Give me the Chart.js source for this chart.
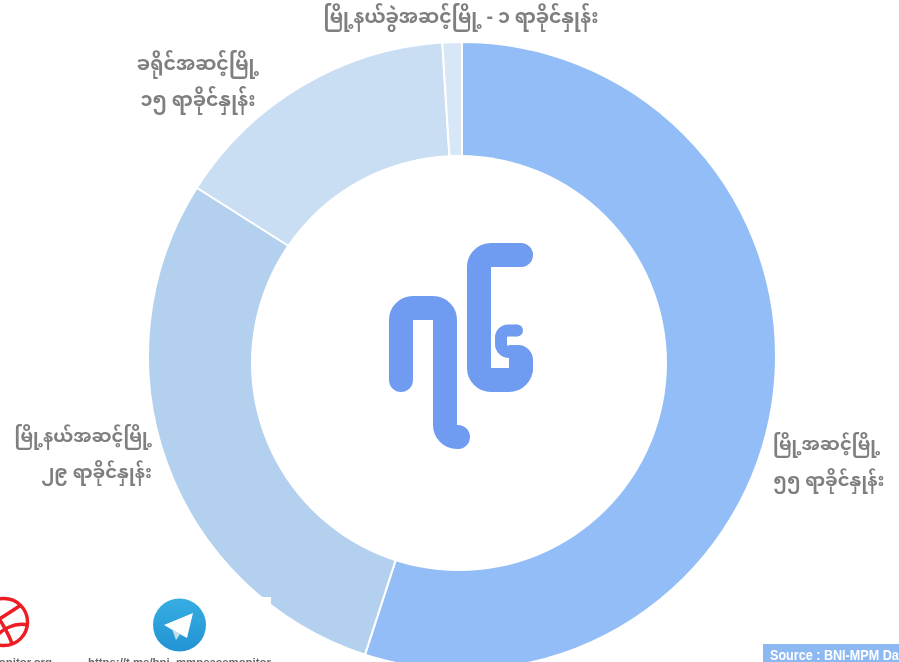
<!DOCTYPE html>
<html>
<head>
<meta charset="utf-8">
<script src="https://cdn.jsdelivr.net/npm/chart.js@4"></script>
<style>
html, body { margin: 0; padding: 0; background: #fff; width: 899px; height: 662px; overflow: hidden; }
#wrap { position: relative; width: 899px; height: 662px; overflow: hidden; font-family: "Noto Sans", "Noto Sans Myanmar", Padauk, sans-serif; }
#canvasBox { position: absolute; left: 0; top: 0; width: 899px; height: 671px; }
.lbl { position: absolute; color: #7f7f7f; font-size: 19px; font-weight: 700; white-space: nowrap; line-height: 36px; }
#logo, #icons { position: absolute; left: 0; top: 0; }
#hole { position: absolute; left: 250.5px; top: 155px; width: 416px; height: 416px; border-radius: 50%; background: #fff; }
#patch { position: absolute; left: 230px; top: 597px; width: 41px; height: 65px; background: #fff; }
.link { position: absolute; top: 656px; font: 700 11.4px "Liberation Sans", sans-serif; color: #666; white-space: nowrap; }
#source { position: absolute; left: 763px; top: 644px; width: 136px; height: 18px; background: #8db9f3; overflow: hidden; }
#source span { position: absolute; left: 7px; top: 0; color: #fff; white-space: nowrap; font: 700 15px/22px "Liberation Sans", sans-serif; transform: scaleX(.84); transform-origin: left top; }
</style>
</head>
<body>
<div id="wrap">
  <div id="canvasBox"><canvas id="donut"></canvas></div>
  <div id="hole"></div>
  <div id="patch"></div>
  <svg id="logo" width="899" height="662" fill="none" stroke="#6f9bf0" stroke-linecap="round">
    <path stroke-width="24" d="M401 380 V320 A12 12 0 0 1 413 308 H433 A12 12 0 0 1 445 320 V425 A12 12 0 0 0 457 437 H458"/>
    <path stroke-width="24" d="M521 255 H491 A12 12 0 0 0 479 267 V368 A12 12 0 0 0 491 380 H509 A12 12 0 0 0 521 368"/>
    <path stroke="none" fill="#6f9bf0" d="M509 345 H518 A15 15 0 0 1 533 360 V372 H509 Z"/>
    <path stroke-width="12" stroke-linecap="butt" d="M517 330.5 H508 A7 7 0 0 0 501 337.5 V344 A8 8 0 0 0 509 352 H512"/>
    <circle cx="517" cy="330.5" r="6" fill="#6f9bf0" stroke="none"/>
  </svg>
  <svg id="icons" width="899" height="662">
    <defs>
      <linearGradient id="tg" x1="0" y1="0" x2="0" y2="1">
        <stop offset="0" stop-color="#36ade2"/>
        <stop offset="1" stop-color="#2293d3"/>
      </linearGradient>
    </defs>
    <g fill="none" stroke="#ee1c25" stroke-width="3.5">
      <circle cx="4" cy="622" r="23.5"/>
      <path d="M-12 605 C0 617 10 637 12 644"/>
      <path d="M-17 629 C0 619 15 609 21 605"/>
      <path d="M-8 642 C0 629 15 622 28 625"/>
    </g>
    <circle cx="179.5" cy="625" r="26.5" fill="url(#tg)"/>
    <path d="M164 625 L193 613 L187 638 L176 632 Z" fill="#fff"/>
    <path d="M172 629 L176 640 L180 634 Z" fill="#c8dcea"/>
  </svg>
  <div class="link" style="right:847px">www.mmpeacemonitor.org</div>
  <div class="link" style="left:88px">https://t.me/bni_mmpeacemonitor</div>
  <div id="source"><span>Source : BNI-MPM Database</span></div>
</div>
<script>
// Chart values
const categories = ['မြို့အဆင့်မြို့', 'မြို့နယ်အဆင့်မြို့', 'ခရိုင်အဆင့်မြို့', 'မြို့နယ်ခွဲအဆင့်မြို့'];
const shares = [55, 29, 15, 1];
const shareLabels = ['၅၅ ရာခိုင်နှုန်း', '၂၉ ရာခိုင်နှုန်း', '၁၅ ရာခိုင်နှုန်း', '၁ ရာခိုင်နှုန်း'];
const sliceColors = ['#93bdf6', '#b3d1ef', '#c9ddf3', '#d8e7f7'];

new Chart(document.getElementById('donut').getContext('2d'), {
    type: 'doughnut',
    data: {
        labels: categories,
        datasets: [{
            data: shares,
            backgroundColor: sliceColors,
            borderColor: '#fff',
            borderWidth: 2
        }]
    },
    options: {
        responsive: true,
        maintainAspectRatio: false,
        animation: false,
        cutout: 195,
        layout: { padding: { left: 147, right: 122, top: 41, bottom: 0 } },
        plugins: { legend: { display: false }, tooltip: { enabled: false } }
    }
});

// Slice captions sit outside the ring
const wrap = document.getElementById('wrap');
function addLabel(text, pos, top, align, size) {
    const el = document.createElement('div');
    el.className = 'lbl';
    el.innerHTML = text;
    el.style.textAlign = align;
    el.style.top = top + 'px';
    el.style.fontSize = size + 'px';
    if (align === 'right') {
        el.style.right = (899 - pos) + 'px';
    } else if (align === 'left') {
        el.style.left = pos + 'px';
    } else {
        el.style.left = (pos - 200) + 'px';
        el.style.width = '400px';
    }
    wrap.appendChild(el);
}
addLabel(categories[0] + '<br>' + shareLabels[0], 773, 425, 'left', 18);
addLabel(categories[1] + '<br>' + shareLabels[1], 152, 417, 'right', 18);
addLabel(categories[2] + '<br>' + shareLabels[2], 198, 45, 'center', 19);
addLabel(categories[3] + ' - ' + shareLabels[3], 461, -2, 'center', 19);
</script>
</body>
</html>
